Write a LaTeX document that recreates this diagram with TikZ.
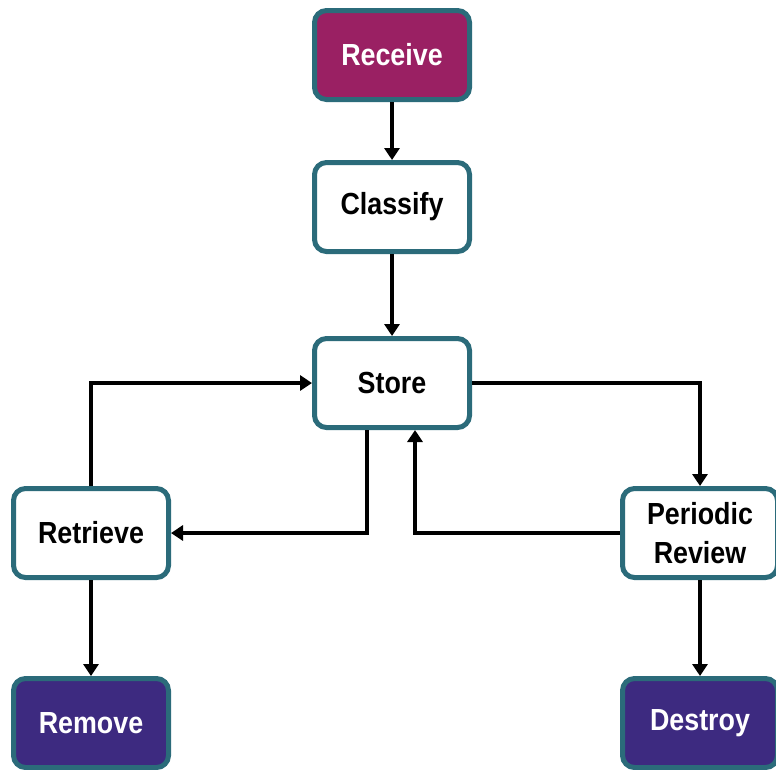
\documentclass[tikz,border=0pt]{standalone}
\usepackage{fontspec}
\setmainfont{Liberation Sans}[FakeStretch=0.88]
\usetikzlibrary{arrows.meta}
\definecolor{boxedge}{HTML}{2B6B7A}
\definecolor{startfill}{HTML}{9A2063}
\definecolor{endfill}{HTML}{3D2A80}
\begin{document}
\begin{tikzpicture}[x=1pt,y=-1pt,
  stage/.style={draw=boxedge, line width=5pt, rounded corners=12pt,
    minimum width=155pt, minimum height=89pt, align=center,
    font=\fontsize{30.5}{39}\selectfont\bfseries, fill=white, text=black,
    inner sep=0pt},
  startstage/.style={stage, fill=startfill, text=white},
  endstage/.style={stage, fill=endfill, text=white},
  conn/.style={draw=black, line width=4pt,
    -{Triangle[width=15pt,length=12pt]}}]
\useasboundingbox (0,0) rectangle (776,769);

% lifecycle stages
\node[startstage] (receive)  at (392,55)  {Receive};
\node[stage]      (classify) at (392,207) {Classify};
\node[stage]      (store)    at (392,383) {Store};
\node[stage]      (retrieve) at (91,533)  {Retrieve};
\node[stage]      (review)   at (700,533) {Periodic\\Review};
\node[endstage]   (remove)   at (91,723)  {Remove};
\node[endstage]   (destroy)  at (700,723) {Destroy};

% flow between stages
\draw[conn] (receive) -- (classify);
\draw[conn] (classify) -- (store);
\draw[conn] (retrieve.north) |- (store.west);
\draw[conn] (store.east) -| (review.north);
\draw[conn] ([xshift=-25pt]store.south) |- (retrieve.east);
\draw[conn] (review.west) -| ([xshift=23pt]store.south);
\draw[conn] (retrieve) -- (remove);
\draw[conn] (review) -- (destroy);
\end{tikzpicture}
\end{document}
